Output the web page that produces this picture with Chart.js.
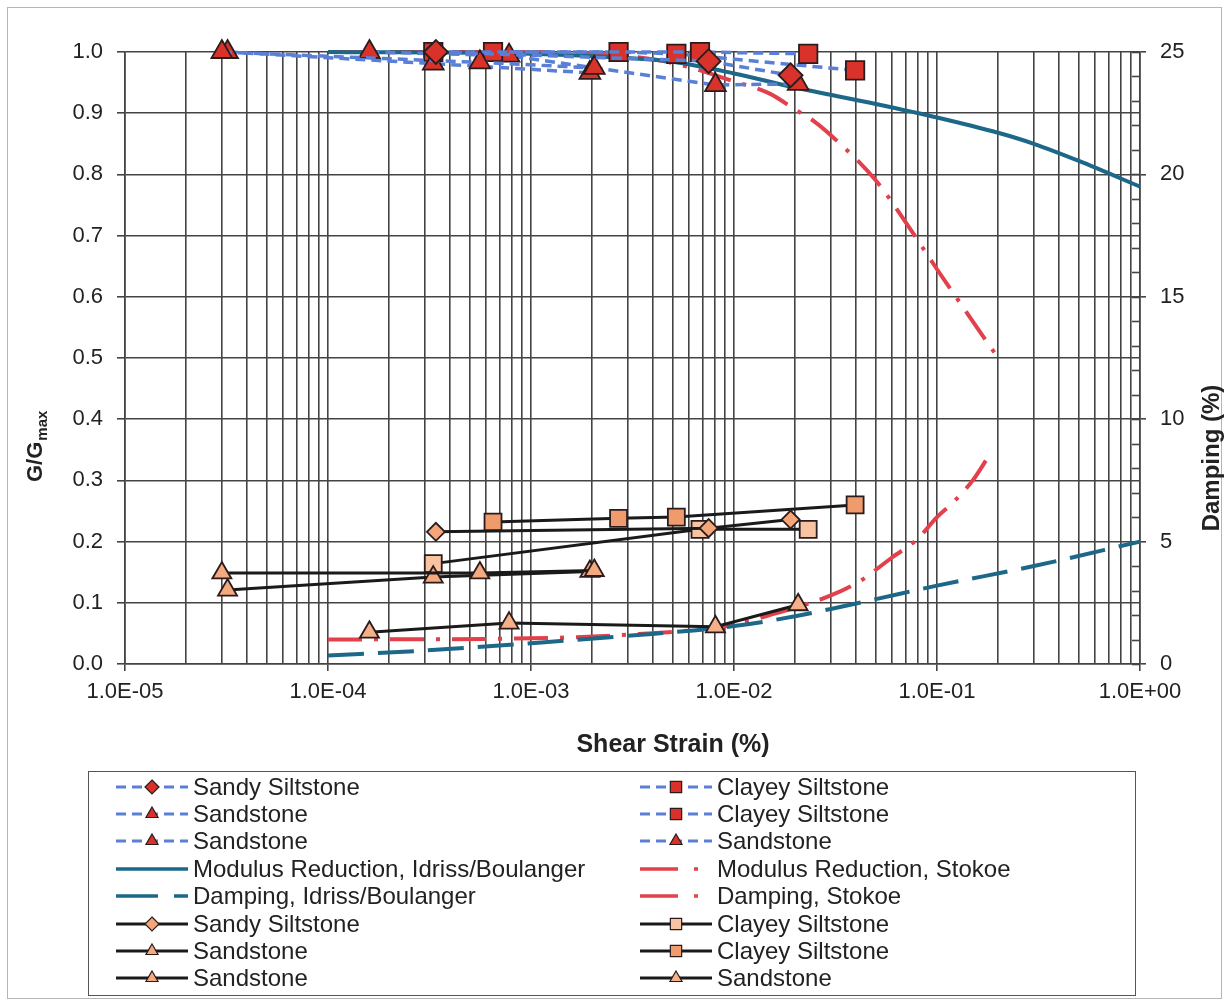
<!DOCTYPE html>
<html>
<head>
<meta charset="utf-8">
<script src="https://cdn.jsdelivr.net/npm/chart.js@4.4.1/dist/chart.umd.min.js"></script>
<style>
  html, body { margin: 0; padding: 0; background: #fff; }
  body { width: 1228px; height: 1001px; position: relative; overflow: hidden;
         font-family: "Liberation Sans", Arial, sans-serif; color: #222; }
  #frame { position: absolute; left: 7px; top: 7px; width: 1213px; height: 990px; border: 1px solid #b5b5b5; }
  #chart { position: absolute; left: 0; top: 0; }
  #legend { position: absolute; left: 88px; top: 771px; width: 1048px; height: 225px;
            box-sizing: border-box; border: 1.5px solid #555; padding: 1px 0 0 27px;
            display: grid; grid-template-columns: 524px 1fr; grid-template-rows: repeat(8, 27.4px);
            grid-auto-flow: column; }
  .item { display: flex; align-items: center; font-size: 24px; white-space: nowrap; line-height: 1; }
  .item canvas { margin-right: 5px; }
</style>
</head>
<body>
<div id="frame"></div>
<canvas id="chart" width="1228" height="770"></canvas>
<div id="legend"></div>
<script>
// x axis decades and their labels
const decades = [1e-5, 1e-4, 1e-3, 1e-2, 1e-1, 1];
const xTickLabels = ["1.0E-05", "1.0E-04", "1.0E-03", "1.0E-02", "1.0E-01", "1.0E+00"];

// lab tests: strain (%), G/Gmax (left axis), damping % (right axis)
const sandySiltStrain = [3.4e-4, 7.5e-3, 1.9e-2];
const sandySiltG = [1.0, 0.985, 0.962];
const sandySiltDamp = [5.4, 5.55, 5.9];

const sandstoneAStrain = [3.0e-5, 5.6e-4, 2.05e-3];
const sandstoneAG = [1.0, 0.983, 0.974];
const sandstoneADamp = [3.72, 3.72, 3.82];

const sandstoneBStrain = [3.2e-5, 3.3e-4, 1.95e-3];
const sandstoneBG = [1.0, 0.981, 0.966];
const sandstoneBDamp = [3.02, 3.55, 3.78];

const clayeyAStrain = [3.3e-4, 6.8e-3, 2.32e-2];
const clayeyAG = [1.0, 1.0, 0.997];
const clayeyADamp = [4.1, 5.5, 5.5];

const clayeyBStrain = [6.5e-4, 2.7e-3, 5.2e-3, 3.95e-2];
const clayeyBG = [1.0, 1.0, 0.997, 0.97];
const clayeyBDamp = [5.8, 5.95, 6.0, 6.5];

const sandstoneCStrain = [1.6e-4, 7.8e-4, 8.1e-3, 2.07e-2];
const sandstoneCG = [1.0, 0.994, 0.946, 0.948];
const sandstoneCDamp = [1.3, 1.67, 1.52, 2.42];

// reference curves
const idrissModStrain = [1e-4, 1e-3, 3e-3, 5e-3, 1e-2, 2e-2, 5e-2, 1e-1, 2e-1, 3e-1, 5e-1, 1];
const idrissMod = [1.0, 0.997, 0.99, 0.984, 0.965, 0.942, 0.915, 0.893, 0.868, 0.85, 0.822, 0.78];
const idrissDampStrain = [1e-4, 3e-4, 1e-3, 3e-3, 1e-2, 2e-2, 3e-2, 5e-2, 1e-1, 3e-1, 1];
const idrissDamp = [0.35, 0.55, 0.85, 1.15, 1.55, 1.95, 2.25, 2.65, 3.2, 4.0, 5.0];

const stokoeModStrain = [1e-4, 1e-3, 3e-3, 5e-3, 1e-2, 1.5e-2, 2e-2, 2.5e-2, 3e-2, 5e-2, 7e-2, 1e-1, 1.5e-1, 2e-1];
const stokoeMod = [1.0, 1.0, 0.993, 0.982, 0.952, 0.932, 0.906, 0.886, 0.864, 0.79, 0.722, 0.645, 0.56, 0.5];
const stokoeDampStrain = [1e-4, 1e-3, 3e-3, 1e-2, 1.5e-2, 2e-2, 3e-2, 4.3e-2, 5e-2, 6e-2, 8e-2, 1e-1, 1.2e-1, 1.5e-1, 1.8e-1];
const stokoeDamp = [1.0, 1.05, 1.2, 1.6, 2.0, 2.3, 2.8, 3.45, 3.85, 4.35, 5.1, 6.0, 6.6, 7.5, 8.5];

const FONT = '"Liberation Sans", Arial, sans-serif';
const GRID = "#444";
const BLUE_DASH = "#5a7fd6";
const RED = "#d8322a";
const EDGE = "#2a1c1c";

function pts(xs, ys) {
  return xs.map((x, i) => ({ x, y: ys[i] }));
}

function isDecade(v) {
  const l = Math.log10(v);
  return Math.abs(l - Math.round(l)) < 1e-9;
}

// every 1..9 x 10^n for the log gridlines
const gridStrains = [];
decades.forEach((d) => {
  for (let m = 1; m <= 9; m++) if (d * m <= 1.0000001) gridStrains.push(d * m);
});

function gSeries(label, xs, ys, style, radius) {
  return {
    label, data: pts(xs, ys), yAxisID: "y", showLine: true, order: 1,
    borderColor: BLUE_DASH, borderWidth: 3.5, borderDash: [10, 6],
    pointStyle: style, pointRadius: radius, pointBackgroundColor: RED,
    pointBorderColor: EDGE, pointBorderWidth: 1.8, clip: false,
    legendRadius: style === "rect" ? 8 : 7,
  };
}

function dSeries(label, xs, ys, style, radius, fill) {
  return {
    label, data: pts(xs, ys), yAxisID: "y2", showLine: true, order: 1,
    borderColor: "#1a1a1a", borderWidth: 3,
    pointStyle: style, pointRadius: radius, pointBackgroundColor: fill,
    pointBorderColor: EDGE, pointBorderWidth: 1.8, clip: false,
    legendRadius: style === "rect" ? 8 : 7,
  };
}

function curve(label, xs, ys, axis, color, dash) {
  return {
    label, data: pts(xs, ys), yAxisID: axis, showLine: true, order: 2,
    borderColor: color, borderWidth: 4, borderDash: dash, pointRadius: 0, clip: false,
    cubicInterpolationMode: "monotone",
  };
}

// column-major legend order (left column, then right column)
const datasets = [
  gSeries("Sandy Siltstone", sandySiltStrain, sandySiltG, "rectRot", 12),
  gSeries("Sandstone", sandstoneAStrain, sandstoneAG, "triangle", 12),
  gSeries("Sandstone", sandstoneBStrain, sandstoneBG, "triangle", 12),
  curve("Modulus Reduction, Idriss/Boulanger", idrissModStrain, idrissMod, "y", "#1d6788", []),
  curve("Damping, Idriss/Boulanger", idrissDampStrain, idrissDamp, "y2", "#1d6788", [36, 14]),
  dSeries("Sandy Siltstone", sandySiltStrain, sandySiltDamp, "rectRot", 9, "#f4a679"),
  dSeries("Sandstone", sandstoneAStrain, sandstoneADamp, "triangle", 11, "#f5a97e"),
  dSeries("Sandstone", sandstoneBStrain, sandstoneBDamp, "triangle", 11, "#f5a97e"),
  gSeries("Clayey Siltstone", clayeyAStrain, clayeyAG, "rect", 13),
  gSeries("Clayey Siltstone", clayeyBStrain, clayeyBG, "rect", 13),
  gSeries("Sandstone", sandstoneCStrain, sandstoneCG, "triangle", 12),
  curve("Modulus Reduction, Stokoe", stokoeModStrain, stokoeMod, "y", "#e2404a", [34, 12, 4, 12]),
  curve("Damping, Stokoe", stokoeDampStrain, stokoeDamp, "y2", "#e2404a", [34, 12, 4, 12]),
  dSeries("Clayey Siltstone", clayeyAStrain, clayeyADamp, "rect", 12, "#f7c3a0"),
  dSeries("Clayey Siltstone", clayeyBStrain, clayeyBDamp, "rect", 12, "#f09b6b"),
  dSeries("Sandstone", sandstoneCStrain, sandstoneCDamp, "triangle", 11, "#f5b08a"),
];
datasets[11].legendDash = [38, 16, 4, 40];
datasets[12].legendDash = [38, 16, 4, 40];
datasets[4].legendDash = [42, 16, 14, 20];

const axisTitles = {
  id: "axisTitles",
  beforeDatasetsDraw(chart) {
    // small inner ticks on the damping axis
    const ctx = chart.ctx;
    const y2 = chart.scales.y2;
    const right = chart.chartArea.right;
    ctx.save();
    ctx.strokeStyle = GRID;
    ctx.lineWidth = 1.6;
    for (let v = 0; v <= 25; v++) {
      const py = Math.round(y2.getPixelForValue(v)) + 0.5;
      ctx.beginPath();
      ctx.moveTo(right - 8, py);
      ctx.lineTo(right, py);
      ctx.stroke();
    }
    ctx.restore();
  },
  afterDraw(chart) {
    const ctx = chart.ctx;
    ctx.save();
    ctx.fillStyle = "#222";
    ctx.font = `bold 25px ${FONT}`;
    ctx.textAlign = "center";
    ctx.textBaseline = "middle";
    ctx.fillText("Shear Strain (%)", 673, 745);

    ctx.save();
    ctx.translate(42, 482);
    ctx.rotate(-Math.PI / 2);
    ctx.textAlign = "left";
    ctx.textBaseline = "alphabetic";
    ctx.font = `bold 22px ${FONT}`;
    ctx.fillText("G/G", 0, 0);
    const w = ctx.measureText("G/G").width;
    ctx.font = `bold 15px ${FONT}`;
    ctx.fillText("max", w + 1, 5);
    ctx.restore();

    ctx.translate(1219, 458);
    ctx.rotate(-Math.PI / 2);
    ctx.textAlign = "center";
    ctx.textBaseline = "alphabetic";
    ctx.font = `bold 24px ${FONT}`;
    ctx.fillText("Damping (%)", 0, 0);
    ctx.restore();
  },
};

const chart = new Chart(document.getElementById("chart"), {
  type: "scatter",
  data: { datasets },
  options: {
    responsive: false,
    animation: false,
    events: [],
    layout: { padding: { top: 52, left: 0, right: 0, bottom: 0 } },
    plugins: { legend: { display: false }, tooltip: { enabled: false } },
    scales: {
      x: {
        type: "logarithmic",
        min: 1e-5,
        max: 1,
        afterBuildTicks: (axis) => { axis.ticks = gridStrains.map((v) => ({ value: v })); },
        afterFit: (axis) => { axis.height = 770 - 664; },
        ticks: {
          autoSkip: false, maxRotation: 0, padding: 8, color: "#222",
          font: { family: FONT, size: 22 },
          callback: (v) => {
            const i = decades.findIndex((d) => Math.abs(d - v) / d < 1e-6);
            return i >= 0 ? xTickLabels[i] : "";
          },
        },
        grid: {
          color: GRID, lineWidth: 1.6, tickLength: 7,
          tickColor: (c) => (c.tick && isDecade(c.tick.value) ? GRID : "rgba(0,0,0,0)"),
        },
        border: { color: GRID, width: 1.6 },
      },
      y: {
        position: "left",
        min: 0,
        max: 1,
        afterFit: (axis) => { axis.width = 125; },
        ticks: {
          stepSize: 0.1, padding: 14, color: "#222",
          font: { family: FONT, size: 22 },
          callback: (v) => v.toFixed(1),
        },
        grid: { color: GRID, lineWidth: 1.6, tickLength: 8 },
        border: { color: GRID, width: 1.6 },
      },
      y2: {
        position: "right",
        min: 0,
        max: 25,
        afterFit: (axis) => { axis.width = 88; },
        ticks: {
          stepSize: 5, padding: 14, color: "#222",
          font: { family: FONT, size: 22 },
        },
        grid: { drawOnChartArea: false, color: GRID, lineWidth: 1.6, tickLength: 6 },
        border: { color: GRID, width: 1.6 },
      },
    },
  },
  plugins: [axisTitles],
});

function drawMarker(g, style, r, x, y) {
  g.beginPath();
  if (style === "rect") {
    const s = r * Math.SQRT1_2;
    g.rect(x - s, y - s, 2 * s, 2 * s);
  } else if (style === "rectRot") {
    g.moveTo(x, y - r); g.lineTo(x + r, y); g.lineTo(x, y + r); g.lineTo(x - r, y); g.closePath();
  } else if (style === "triangle") {
    g.moveTo(x, y - r);
    g.lineTo(x + r * Math.sin(2 * Math.PI / 3), y + r / 2);
    g.lineTo(x - r * Math.sin(2 * Math.PI / 3), y + r / 2);
    g.closePath();
  }
  g.fill();
  g.stroke();
}

function renderLegend(ch) {
  const box = document.getElementById("legend");
  box.innerHTML = "";
  ch.data.datasets.forEach((ds) => {
    const item = document.createElement("div");
    item.className = "item";
    const c = document.createElement("canvas");
    c.width = 72;
    c.height = 22;
    const g = c.getContext("2d");
    g.strokeStyle = ds.borderColor;
    g.lineWidth = ds.pointRadius ? 3 : 3.5;
    g.setLineDash(ds.legendDash || ds.borderDash || []);
    g.beginPath();
    g.moveTo(0, 11);
    g.lineTo(72, 11);
    g.stroke();
    g.setLineDash([]);
    if (ds.pointRadius) {
      g.fillStyle = ds.pointBackgroundColor;
      g.strokeStyle = ds.pointBorderColor;
      g.lineWidth = 1.2;
      drawMarker(g, ds.pointStyle, ds.legendRadius, 36, 11);
    }
    const span = document.createElement("span");
    span.textContent = ds.label;
    item.append(c, span);
    box.appendChild(item);
  });
}

renderLegend(chart);
</script>
</body>
</html>
